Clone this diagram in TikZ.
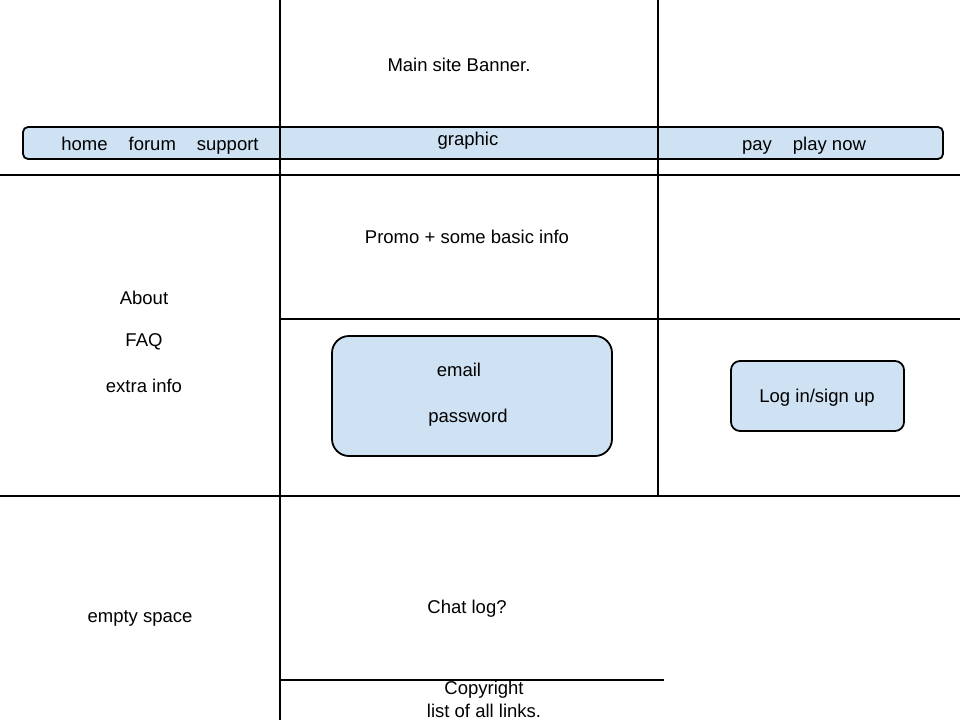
\documentclass[tikz,border=0pt]{standalone}
\usepackage{fontspec}
\setmainfont{Liberation Sans}
\definecolor{boxfill}{HTML}{CFE2F3}
\tikzset{
  line/.style={draw=black, line width=1.8pt},
  box/.style={draw=black, line width=1.8pt, fill=boxfill},
  lbl/.style={font=\fontsize{18.5}{21}\selectfont, inner sep=0pt, anchor=center},
}
\begin{document}
\begin{tikzpicture}[x=1pt,y=-1pt]
\useasboundingbox (0,0) rectangle (960,720);
% banner bar
\path[box, rounded corners=5pt] (23,127) rectangle (943,159);
% email box and login box
\node[box, rounded corners=17pt, minimum width=280pt, minimum height=120pt, inner sep=0pt] (cred) at (472,396) {};
\node[box, rounded corners=9pt, minimum width=173pt, minimum height=70pt, inner sep=0pt] (login) at (817.5,396) {};
% grid lines
\coordinate (v1t) at (280,0); \coordinate (v1b) at (280,720);
\coordinate (v2t) at (658,0); \coordinate (v2b) at (658,496);
\coordinate (h1l) at (0,175); \coordinate (h1r) at (960,175);
\coordinate (h2l) at (280,319); \coordinate (h2r) at (960,319);
\coordinate (h3l) at (0,496); \coordinate (h3r) at (960,496);
\coordinate (h4l) at (280,680); \coordinate (h4r) at (664,680);
\draw[line] (v1t) -- (v1b);
\draw[line] (v2t) -- (v2b);
\draw[line] (h1l) -- (h1r);
\draw[line] (h2l) -- (h2r);
\draw[line] (h3l) -- (h3r);
\draw[line] (h4l) -- (h4r);
% texts
\node[lbl] (banner) at (459,65) {Main site Banner.};
\node[lbl] (nav) at (160,146) {home\hspace{21pt}forum\hspace{21pt}support};
\node[lbl] (graphic) at (468,141) {graphic};
\node[lbl] (pay) at (804,146) {pay\hspace{21pt}play now};
\node[lbl] (promo) at (467,237) {Promo + some basic info};
\node[lbl] (about) at (144,298) {About};
\node[lbl] (faq) at (144,342) {FAQ};
\node[lbl] (extra) at (144,386) {extra info};
\node[lbl] (email) at (459,370) {email};
\node[lbl] (pw) at (468,418) {password};
\node[lbl] (logintext) at (817,398) {Log in/sign up};
\node[lbl] (empty) at (140,618) {empty space};
\node[lbl] (chat) at (467,609) {Chat log?};
\node[lbl] (copy) at (484,690) {Copyright};
\node[lbl] (links) at (484,710.5) {list of all links.};
\end{tikzpicture}
\end{document}
